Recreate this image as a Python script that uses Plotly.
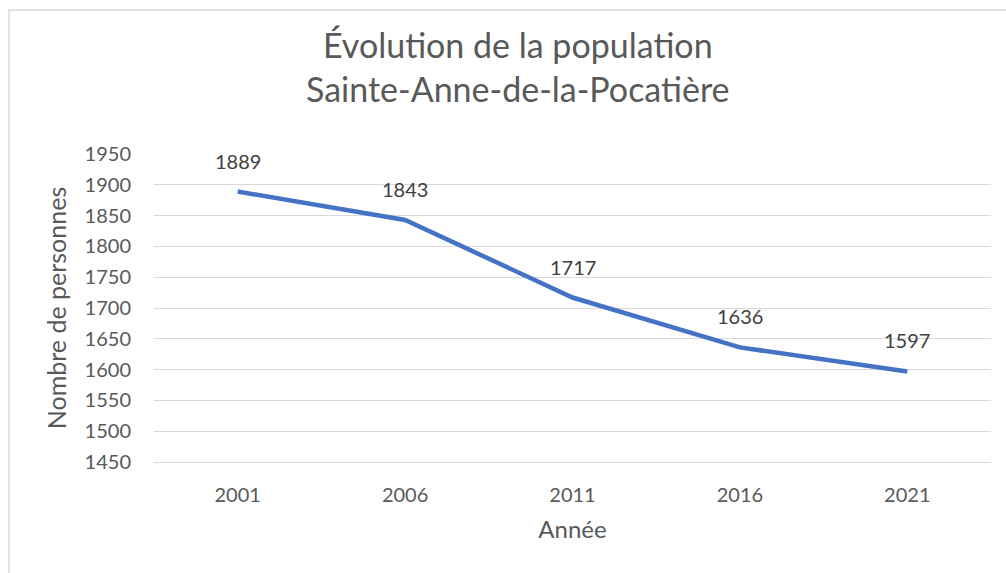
import plotly.graph_objects as go

years = ["2001", "2006", "2011", "2016", "2021"]
population = [1889, 1843, 1717, 1636, 1597]
y_ticks = [1450, 1500, 1550, 1600, 1650, 1700, 1750, 1800, 1850, 1900, 1950]
title_text = "Évolution de la population<br>Sainte-Anne-de-la-Pocatière"

FONT = "Lato, Calibri, Carlito, sans-serif"
GREY = "#595959"

W, H = 1006, 573
L, R, T, B = 154, 15, 154, 111
pw, ph = W - L - R, H - T - B


def px_x(x):
    return (x - L) / pw


def px_y(y):
    return (H - B - y) / ph


fig = go.Figure()
fig.add_trace(go.Scatter(
    x=years, y=population, mode="lines",
    line=dict(color="#4472C4", width=4.5),
    hoverinfo="x+y", showlegend=False,
))

annotations = []
for i, val in enumerate(population):
    annotations.append(dict(x=i, y=val, xref="x", yref="y", text=str(val), showarrow=False,
                            yshift=31, xanchor="center", yanchor="middle",
                            font=dict(family=FONT, size=20, color="#404040")))

annotations.append(dict(x=px_x(518), y=px_y(66.5), xref="paper", yref="paper",
                        text=title_text, showarrow=False, xanchor="center", yanchor="middle",
                        font=dict(family=FONT, size=34, color=GREY)))

fig.add_shape(type="rect", xref="paper", yref="paper",
              x0=px_x(9), x1=px_x(W + 5), y0=px_y(H + 5), y1=px_y(10),
              line=dict(color="#d9d9d9", width=1.3), fillcolor="rgba(0,0,0,0)", layer="below")

fig.update_layout(
    width=W, height=H,
    margin=dict(l=L, r=R, t=T, b=B),
    paper_bgcolor="white", plot_bgcolor="white",
    font=dict(family=FONT, color=GREY),
    annotations=annotations,
    xaxis=dict(type="category", range=[-0.5, 4.5], showgrid=False, zeroline=False,
               showline=True, linecolor="#d9d9d9", linewidth=1.3,
               ticks="", tickfont=dict(family=FONT, size=20, color=GREY),
               ticklabelstandoff=15,
               title=dict(text="Année", font=dict(family=FONT, size=24, color=GREY), standoff=16)),
    yaxis=dict(range=[1450, 1950], tickvals=y_ticks, showgrid=True, gridcolor="#d9d9d9", gridwidth=1.3,
               zeroline=False, showline=False, ticks="",
               tickfont=dict(family=FONT, size=20, color=GREY),
               ticklabelstandoff=22,
               title=dict(text="Nombre de personnes", font=dict(family=FONT, size=25, color=GREY), standoff=10)),
)

fig.write_html("out.html", config={"displayModeBar": False},
               post_script="document.body.style.margin='0';")
